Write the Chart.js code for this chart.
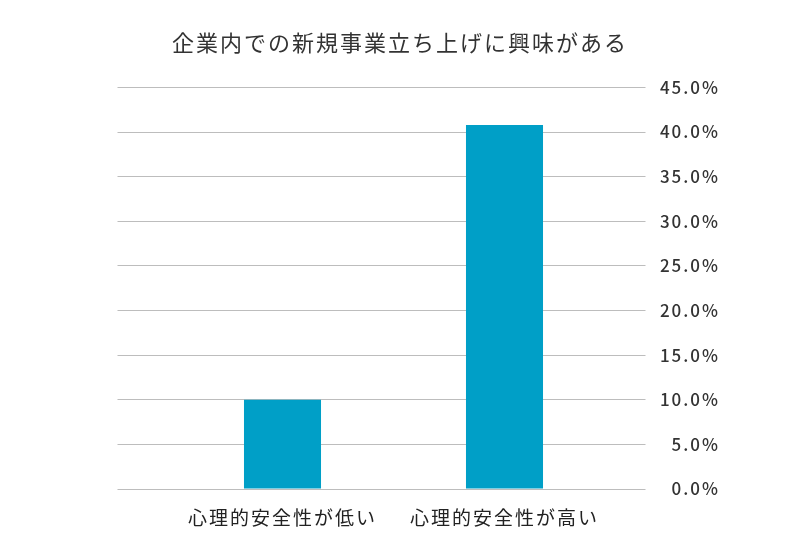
<!DOCTYPE html>
<html>
<head>
<meta charset="utf-8">
<script src="https://cdn.jsdelivr.net/npm/chart.js@4"></script>
<style>
  body { margin: 0; background: #fff; }
  #wrap { width: 800px; height: 560px; }
</style>
</head>
<body>
<div id="wrap"><canvas id="mycanvas"></canvas></div>
<script>
var title = '企業内での新規事業立ち上げに興味がある';
var groups = ['心理的安全性が低い', '心理的安全性が高い'];
var share = [10.0, 40.8];
var yMax = 45;
var yStep = 5;

var font = '"Noto Sans CJK JP", "Noto Sans", sans-serif';

// the reference text is drawn with a little letter spacing
var spacing = {
	id: 'spacing',
	beforeDraw: function(chart) { chart.ctx.letterSpacing = '2px'; },
	afterDraw: function(chart) { chart.ctx.letterSpacing = '0px'; }
};

var chartdata = {
	labels: groups,
	datasets: [
		{
			label: title,
			backgroundColor: '#009fc7',
			borderWidth: 0,
			barPercentage: 0.347,
			categoryPercentage: 1,
			data: share
		}
	]
};

var ctx = document.getElementById('mycanvas');

var barGraph = new Chart(ctx, {
	type: 'bar',
	data: chartdata,
	plugins: [spacing],
	options: {
		responsive: true,
		maintainAspectRatio: false,
		animation: false,
		layout: { padding: { left: 80, right: 80, top: 0, bottom: 0 } },
		plugins: {
			legend: { display: false },
			tooltip: { enabled: false },
			title: {
				display: true,
				text: title,
				color: '#333',
				font: { family: font, size: 22, weight: 'normal' },
				padding: { top: 29, bottom: 32 }
			}
		},
		scales: {
			x: {
				grid: { display: false },
				border: { display: false },
				ticks: {
					color: '#222',
					font: { family: font, size: 19 },
					padding: 9
				},
				afterFit: function(scale) { scale.height = 71; }
			},
			y: {
				position: 'right',
				min: 0,
				max: yMax,
				border: { display: false },
				grid: { color: '#bdbdbd', lineWidth: 1, tickLength: 30 },
				ticks: {
					stepSize: yStep,
					crossAlign: 'far',
					padding: 12,
					color: '#333',
					font: { family: font, size: 17, weight: 500 },
					callback: function(v) { return v.toFixed(1) + '%'; }
				},
				afterFit: function(scale) { scale.width = 104.5; }
			},
			y2: {
				position: 'left',
				min: 0,
				max: yMax,
				border: { display: false },
				grid: { color: '#bdbdbd', lineWidth: 1, drawOnChartArea: false, tickLength: 54 },
				ticks: { stepSize: yStep, display: false },
				afterFit: function(scale) { scale.width = 91.5; }
			}
		}
	}
});
</script>
</body>
</html>
